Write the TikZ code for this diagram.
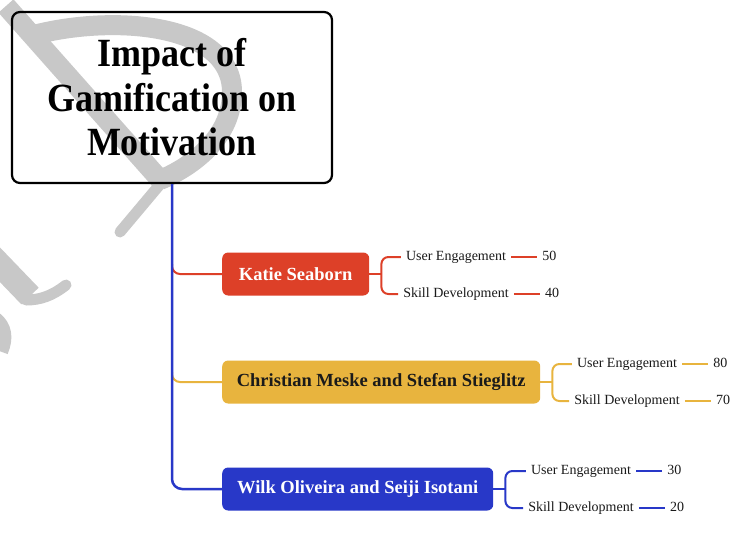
\documentclass[tikz,border=0pt]{standalone}
\usepackage{fontspec}
\setmainfont{Liberation Serif}
\newfontfamily\titlefont[FakeStretch=0.9]{Liberation Serif}
\usetikzlibrary{positioning,calc}
\definecolor{cred}{RGB}{221,64,40}
\definecolor{cgold}{RGB}{232,180,62}
\definecolor{cblue}{RGB}{40,56,200}
\definecolor{wm}{RGB}{200,200,200}
\definecolor{ink}{RGB}{26,26,26}
\begin{document}
\begin{tikzpicture}[x=1pt,y=-1pt,
  titlebox/.style={draw=black, line width=2.2pt, rounded corners=8pt, minimum width=320pt, minimum height=171pt, align=center, inner sep=0pt, font=\titlefont\bfseries\fontsize{40}{44.5}\selectfont},
  catbox/.style={rounded corners=6pt, minimum height=43pt, anchor=west, inner sep=0pt, font=\bfseries\fontsize{18.5}{21}\selectfont},
  leaf/.style={inner xsep=5pt, inner ysep=0pt, text height=10pt, text depth=3pt, font=\fontsize{14}{16}\selectfont, text=ink},
  link/.style={line width=2pt},
  wmark/.style={draw=wm, line width=20pt}
]
\useasboundingbox (0,0) rectangle (730,547);
\fill[white] (0,0) rectangle (730,547);
% watermark
\draw[wmark] (6,6) -- (162,182);
\draw[wmark] (30,36) .. controls (110,14) and (232,22) .. (232,92) .. controls (232,135) and (196,165) .. (160,180);
\draw[wmark, line width=11pt, line cap=round] (162,182) -- (120,232);
\draw[wmark, line width=24pt] (-20,244) -- (30,296);
\draw[wmark, line width=11pt, line cap=round] (26,300) .. controls (40,300) and (52,296) .. (66,285);
\draw[wmark, line width=12pt] (-4,318) .. controls (6,326) and (8,338) .. (2,352);
% title
\node[titlebox] (title) at (172,97.5) {Impact of\\Gamification on\\Motivation};
% categories
\node[catbox, fill=cred, text=white, minimum width=147pt] (katie) at (222,274) {Katie Seaborn};
\node[catbox, fill=cgold, text=ink, minimum width=318pt] (meske) at (222,382) {Christian Meske and Stefan Stieglitz};
\node[catbox, fill=cblue, text=white, minimum width=271pt] (wilk) at (222,489) {Wilk Oliveira and Seiji Isotani};
% leaves
\node[leaf] (k1) at (456,257) {User Engagement};
\node[leaf] (k2) at (456,294) {Skill Development};
\node[leaf, right=26pt of k1] (k1n) {50};
\node[leaf, right=26pt of k2] (k2n) {40};
\node[leaf] (m1) at (627,364) {User Engagement};
\node[leaf] (m2) at (627,401) {Skill Development};
\node[leaf, right=26pt of m1] (m1n) {80};
\node[leaf, right=26pt of m2] (m2n) {70};
\node[leaf] (w1) at (581,471) {User Engagement};
\node[leaf] (w2) at (581,508) {Skill Development};
\node[leaf, right=26pt of w1] (w1n) {30};
\node[leaf, right=26pt of w2] (w2n) {20};
% branches from trunk
\draw[link, cred, rounded corners=8pt] ($(katie.west -| title.south)+(0,-10)$) |- (katie.west);
\draw[link, cgold, rounded corners=8pt] ($(meske.west -| title.south)+(0,-10)$) |- (meske.west);
\draw[link, cblue, line width=2.5pt, rounded corners=10pt] (title.south) |- (wilk.west);
% brackets
\draw[link, cred] (katie.east) -- ++(12,0) coordinate (kb);
\draw[link, cred, rounded corners=7pt] (k1.west) -| (kb) |- (k2.west);
\draw[link, cred] (k1) -- (k1n);
\draw[link, cred] (k2) -- (k2n);
\draw[link, cgold] (meske.east) -- ++(12,0) coordinate (mb);
\draw[link, cgold, rounded corners=7pt] (m1.west) -| (mb) |- (m2.west);
\draw[link, cgold] (m1) -- (m1n);
\draw[link, cgold] (m2) -- (m2n);
\draw[link, cblue] (wilk.east) -- ++(12,0) coordinate (wb);
\draw[link, cblue, rounded corners=7pt] (w1.west) -| (wb) |- (w2.west);
\draw[link, cblue] (w1) -- (w1n);
\draw[link, cblue] (w2) -- (w2n);
\end{tikzpicture}
\end{document}
